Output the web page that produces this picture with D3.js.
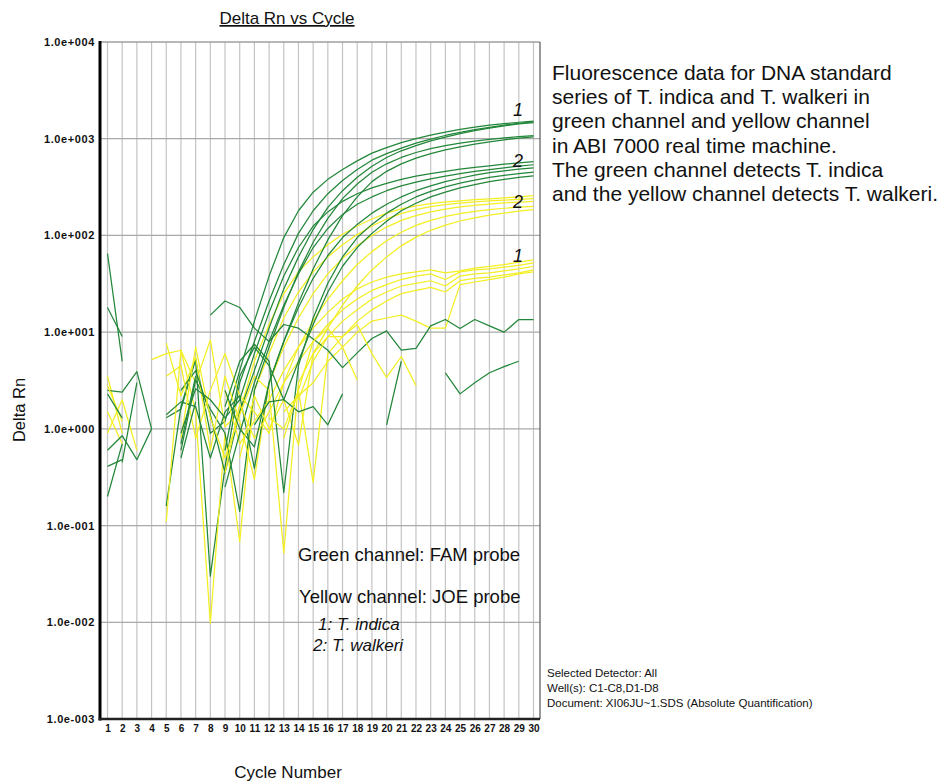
<!DOCTYPE html>
<html>
<head>
<meta charset="utf-8">
<script src="https://cdn.jsdelivr.net/npm/d3@7"></script>
<style>
  body { margin: 0; background: #ffffff; }
  svg { display: block; }
  text { font-family: "Liberation Sans", Arial, sans-serif; fill: #111; }
</style>
</head>
<body>
<svg id="chart" width="950" height="783"></svg>
<script>
// Cycle numbers on the x axis
const cycles = d3.range(1, 31);

// Decade ticks of the log Delta Rn axis and their printed labels
const yTickValues = [1e-3, 1e-2, 1e-1, 1, 10, 100, 1000, 10000];
const yTickLabels = ["1.0e-003", "1.0e-002", "1.0e-001", "1.0e+000",
                     "1.0e+001", "1.0e+002", "1.0e+003", "1.0e+004"];

// FAM (green channel) Delta Rn per cycle, one array per well; null = not plotted (<= 0)
const fam1  = [65, 5, null, null, 1.3, 1.6, 5.2, 0.9, 1.2, 4, 13, 38, 95, 180, 280, 380, 480, 590, 710, 810, 910, 1000, 1090, 1170, 1250, 1320, 1380, 1430, 1480, 1520];
const fam2  = [18, 9, null, null, 0.16, 1.7, 5.4, 0.03, 0.4, 3, 8, 21, 50, 105, 180, 270, 370, 480, 600, 700, 800, 900, 990, 1080, 1160, 1240, 1310, 1380, 1440, 1490];
const fam3  = [2.5, 2.4, 3.9, 1.0, null, 0.6, 3.2, 1.6, 0.9, 0.14, 2.5, 7, 18, 42, 85, 150, 240, 340, 450, 550, 640, 720, 790, 850, 900, 945, 985, 1020, 1050, 1075];
const fam4  = [0.41, 0.48, null, null, null, 2.5, 4.0, 1.4, 0.35, 1.5, 4, 11, 28, 60, 115, 195, 290, 400, 520, 640, 750, 850, 950, 1040, 1130, 1210, 1290, 1360, 1420, 1470];
const fam5  = [0.2, 0.7, null, null, 1.4, 1.9, 1.7, 0.5, 1.5, 2.2, 0.39, 3, 8, 20, 45, 90, 160, 250, 360, 460, 550, 630, 700, 765, 825, 880, 930, 975, 1015, 1045];
const fam6  = [0.6, 0.85, 0.48, 1.0, null, 0.9, 2.6, 2.0, 1.3, 2, 6, 16, 38, 75, 125, 175, 225, 270, 310, 345, 380, 410, 435, 460, 485, 505, 525, 545, 562, 578];
const fam7  = [null, 0.45, 3.0, null, null, 0.5, 1.9, null, 0.25, 0.9, 3, 8, 19, 40, 75, 118, 165, 210, 250, 290, 325, 355, 385, 410, 435, 460, 480, 500, 520, 538];
const fam8  = [null, null, null, null, null, 0.7, 3.5, null, 2.5, 1.0, 0.65, 3, 8, 18, 36, 62, 95, 130, 170, 210, 250, 290, 325, 360, 390, 420, 445, 465, 485, 500];
const fam9  = [null, null, null, null, null, null, null, null, 1.7, 5.0, 7.5, 5, 0.22, 4.5, 14, 32, 60, 95, 130, 170, 210, 250, 285, 318, 348, 374, 398, 418, 436, 452];
const fam10 = [null, null, null, null, null, null, null, null, 0.6, 3.5, 7, 4.5, 2, 5, 12, 26, 48, 75, 105, 140, 180, 215, 250, 280, 310, 335, 360, 380, 398, 412];
const fam11 = [null, null, null, null, null, null, null, 15, 21, 18, 11, 8, 12, 11, 8.5, 6.5, 4.3, 6.1, 8.6, 10.3, 6.5, 6.8, 11.6, 13.5, 10.9, 13.5, 11.6, 10, 13.5, 13.5];
const fam12 = [2.3, 1.3, null, null, null, null, null, null, null, null, 1.1, 1.9, 2.0, 1.5, 1.7, 1.1, 2.3, null, null, 1.1, 5.0, null, null, 3.8, 2.3, 3.0, 3.8, 4.4, 5.0, null];

// JOE (yellow channel) Delta Rn per cycle, one array per well
const joe1  = [3.5, 0.9, null, 5.2, 6, 6.5, 3, 8.3, 1.05, 1.5, 5, 12, 25, 42, 60, 80, 103, 125, 148, 170, 188, 202, 213, 222, 228, 234, 239, 245, 251, 258];
const joe2  = [0.9, 2.0, 0.6, null, 0.11, 6.5, 1.5, 0.0098, 0.9, 0.068, 2.5, 6, 14, 26, 42, 60, 80, 102, 125, 148, 168, 185, 198, 208, 216, 222, 228, 232, 236, 240];
const joe3  = [2.8, 1.2, null, null, 7.7, 2.2, 5.5, 0.6, 3.5, 1.2, 0.3, 3, 7, 14, 25, 40, 58, 78, 100, 122, 143, 160, 175, 187, 197, 205, 211, 217, 221, 225];
const joe4  = [1.5, 0.7, null, null, 3.5, 4.5, 0.8, 2.5, 6, 2.2, 1.5, 0.9, 3, 7, 13, 22, 34, 50, 68, 88, 108, 127, 143, 157, 168, 177, 185, 191, 196, 200];
const joe5  = [null, null, null, null, null, 0.8, 7, 1.3, 0.5, 1.4, 3.5, 2.5, 0.052, 3, 6, 11, 19, 30, 44, 60, 78, 96, 113, 128, 141, 152, 162, 170, 178, 185];
const joe6  = [null, null, null, null, null, null, null, null, 2.5, 0.7, 1.2, 2, 4, 7, 11, 16, 22, 28, 33, 37, 40, 42, 44, 41, 43, 46, 48, 50, 53, 56];
const joe7  = [null, null, null, null, null, null, null, null, 0.35, 1.8, 0.8, 1.5, 3, 5, 8, 12, 17, 22, 27, 31, 35, 38, 40, 35, 42, 44, 45, 47, 49, 52];
const joe8  = [null, null, null, null, null, null, null, null, null, 0.5, 2.2, 1.0, 2, 0.68, 6, 9, 13, 17, 22, 26, 30, 32, 34, 30, 38, 40, 41, 43, 45, 48];
const joe9  = [null, null, null, null, null, null, null, null, null, null, null, 1.3, 1.0, 2.5, 0.28, 6, 9, 13, 17, 21, 25, 27, 29, 26, 34, 36, 37, 39, 41, 44];
const joe10 = [null, null, null, null, null, null, null, null, null, null, null, null, 1.5, 2.2, 3, 5, 7, 10, 13, 14, 15, 13, 11, 11, 31, 33, 35, 37, 40, 42];
const joe11 = [null, null, null, null, null, null, null, null, null, null, null, null, null, 2, 5, 9, 9, 12, 6, 3.4, 5.6, 2.8, null, null, null, null, null, null, null, null];
const joe12 = [null, null, null, null, null, null, null, null, null, null, null, null, 0.8, 2.5, 8, 11, 7, 3.2, null, null, null, null, null, null, null, null, null, null, null, null];

const famTraces = [fam1, fam2, fam3, fam4, fam5, fam6, fam7, fam8, fam9, fam10, fam11, fam12];
const joeTraces = [joe1, joe2, joe3, joe4, joe5, joe6, joe7, joe8, joe9, joe10, joe11, joe12];

// Plateau group markers at the right end of the curves (Delta Rn level of each marker)
const groupLabels = ["1", "2", "2", "1"];
const groupLabelValues = [1700, 516, 192, 53];

const infoLines = [
  "Fluorescence data for DNA standard",
  "series of T. indica and T. walkeri in",
  "green channel and yellow channel",
  "in ABI 7000 real time machine.",
  "The green channel detects T. indica",
  "and the yellow channel detects T. walkeri."
];
const detectorLines = [
  "Selected Detector: All",
  "Well(s): C1-C8,D1-D8",
  "Document: XI06JU~1.SDS (Absolute Quantification)"
];

const svg = d3.select("#chart");
const frame = { left: 100, right: 540, top: 42, bottom: 719 };

const x = d3.scaleLinear().domain([1, 30]).range([107.5, 533.5]);
const y = d3.scaleLog().domain([1e-3, 1e4]).range([frame.bottom, frame.top]);

const GREEN = "#23873a";
const YELLOW = "#f3ef22";

// Title
svg.append("text")
  .attr("x", 287).attr("y", 24)
  .attr("text-anchor", "middle")
  .style("font-size", "17px")
  .style("text-decoration", "underline")
  .text("Delta Rn vs Cycle");

// Grid: one vertical line per cycle, one horizontal line per decade
const grid = svg.append("g");
grid.selectAll("line.v").data(cycles).join("line")
  .attr("class", "v")
  .attr("x1", d => x(d)).attr("x2", d => x(d))
  .attr("y1", frame.top).attr("y2", frame.bottom)
  .attr("stroke", "#c4c4c4").attr("stroke-width", 1.2);
grid.selectAll("line.h").data(yTickValues).join("line")
  .attr("class", "h")
  .attr("x1", frame.left).attr("x2", frame.right)
  .attr("y1", d => y(d)).attr("y2", d => y(d))
  .attr("stroke", "#a9a9a9").attr("stroke-width", 1.2);

// Plot frame
svg.append("line").attr("x1", frame.left).attr("x2", frame.right)
  .attr("y1", frame.top).attr("y2", frame.top)
  .attr("stroke", "#9a9a9a").attr("stroke-width", 1);
svg.append("line").attr("x1", frame.right).attr("x2", frame.right)
  .attr("y1", frame.top).attr("y2", frame.bottom)
  .attr("stroke", "#555").attr("stroke-width", 1.2);

// Amplification traces
const line = d3.line()
  .defined(d => d != null && d > 0)
  .x((d, i) => x(cycles[i]))
  .y(d => y(d));

const traces = svg.append("g").attr("fill", "none").attr("stroke-width", 1.25)
  .attr("stroke-linejoin", "round");
famTraces.forEach((vals, i) => {
  traces.append("path").attr("d", line(vals)).attr("stroke", GREEN);
  traces.append("path").attr("d", line(joeTraces[i])).attr("stroke", YELLOW);
});

// Axes
const yAxis = d3.axisLeft(y).tickValues(yTickValues)
  .tickFormat((d, i) => yTickLabels[i]).tickSize(0).tickPadding(5);
const gy = svg.append("g").attr("transform", `translate(${frame.left},0)`).call(yAxis);
gy.select(".domain").remove();
gy.selectAll("text").style("font-size", "11px").style("font-weight", "bold")
  .style("letter-spacing", "0.6px")
  .style("font-family", "'Liberation Sans', Arial, sans-serif").attr("fill", "#222");

const xAxis = d3.axisBottom(x).tickValues(cycles).tickSize(0).tickPadding(6);
const gx = svg.append("g").attr("transform", `translate(0,${frame.bottom})`).call(xAxis);
gx.select(".domain").remove();
gx.selectAll("text").style("font-size", "10px").style("font-weight", "bold")
  .style("font-family", "'Liberation Sans', Arial, sans-serif").attr("fill", "#222");

svg.append("line").attr("x1", frame.left).attr("x2", frame.left)
  .attr("y1", frame.top - 1).attr("y2", frame.bottom + 1.5)
  .attr("stroke", "#000").attr("stroke-width", 3);
svg.append("line").attr("x1", frame.left - 1.5).attr("x2", frame.right)
  .attr("y1", frame.bottom).attr("y2", frame.bottom)
  .attr("stroke", "#222").attr("stroke-width", 2.5);

// Axis titles
svg.append("text")
  .attr("transform", "translate(25,410) rotate(-90)")
  .attr("text-anchor", "middle")
  .style("font-size", "16.5px")
  .text("Delta Rn");
svg.append("text")
  .attr("x", 288).attr("y", 778)
  .attr("text-anchor", "middle")
  .style("font-size", "17px")
  .text("Cycle Number");

// Group markers
svg.append("g").selectAll("text").data(groupLabels).join("text")
  .attr("x", 518).attr("y", (d, i) => y(groupLabelValues[i]))
  .attr("text-anchor", "middle")
  .style("font-size", "18px").style("font-style", "italic")
  .text(d => d);

// Probe legend inside the plot
const legend = svg.append("g");
legend.append("text").attr("x", 298).attr("y", 561)
  .style("font-size", "18.5px").text("Green channel: FAM probe");
legend.append("text").attr("x", 299).attr("y", 603)
  .style("font-size", "18.5px").text("Yellow channel: JOE probe");
legend.append("text").attr("x", 318).attr("y", 630)
  .style("font-size", "17px").style("font-style", "italic").text("1: T. indica");
legend.append("text").attr("x", 313).attr("y", 651)
  .style("font-size", "17px").style("font-style", "italic").text("2: T. walkeri");

// Description block
svg.append("g").selectAll("text").data(infoLines).join("text")
  .attr("x", 552).attr("y", (d, i) => 80 + i * 24.2)
  .style("font-size", "21px")
  .text(d => d);

// Run details
svg.append("g").selectAll("text").data(detectorLines).join("text")
  .attr("x", 547).attr("y", (d, i) => 677 + i * 15.2)
  .style("font-size", "11.5px").attr("fill", "#222")
  .text(d => d);
</script>
</body>
</html>
